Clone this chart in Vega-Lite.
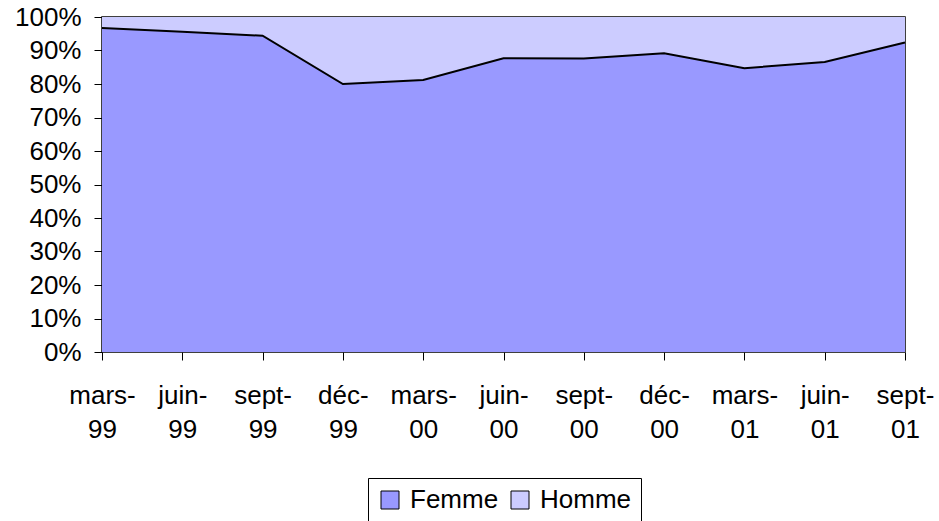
{
  "$schema": "https://vega.github.io/schema/vega-lite/v6.json",
  "width": 803,
  "height": 335,
  "autosize": "none",
  "padding": {"left": 102, "top": 17, "right": 34, "bottom": 169},
  "background": "white",
  "config": {
    "font": "Liberation Sans",
    "view": {"stroke": "black", "strokeWidth": 1.5},
    "axis": {"grid": false, "domain": false, "tickColor": "black", "labelColor": "black", "labelFont": "Liberation Sans"}
  },
  "data": {
    "values": [
      {"mois": "mars-99", "sexe": "Femme", "o": 1, "v": 0.967},
      {"mois": "juin-99", "sexe": "Femme", "o": 1, "v": 0.956},
      {"mois": "sept-99", "sexe": "Femme", "o": 1, "v": 0.944},
      {"mois": "déc-99", "sexe": "Femme", "o": 1, "v": 0.800},
      {"mois": "mars-00", "sexe": "Femme", "o": 1, "v": 0.812},
      {"mois": "juin-00", "sexe": "Femme", "o": 1, "v": 0.877},
      {"mois": "sept-00", "sexe": "Femme", "o": 1, "v": 0.876},
      {"mois": "déc-00", "sexe": "Femme", "o": 1, "v": 0.892},
      {"mois": "mars-01", "sexe": "Femme", "o": 1, "v": 0.847},
      {"mois": "juin-01", "sexe": "Femme", "o": 1, "v": 0.866},
      {"mois": "sept-01", "sexe": "Femme", "o": 1, "v": 0.924},
      {"mois": "mars-99", "sexe": "Homme", "o": 2, "v": 0.033},
      {"mois": "juin-99", "sexe": "Homme", "o": 2, "v": 0.044},
      {"mois": "sept-99", "sexe": "Homme", "o": 2, "v": 0.056},
      {"mois": "déc-99", "sexe": "Homme", "o": 2, "v": 0.200},
      {"mois": "mars-00", "sexe": "Homme", "o": 2, "v": 0.188},
      {"mois": "juin-00", "sexe": "Homme", "o": 2, "v": 0.123},
      {"mois": "sept-00", "sexe": "Homme", "o": 2, "v": 0.124},
      {"mois": "déc-00", "sexe": "Homme", "o": 2, "v": 0.108},
      {"mois": "mars-01", "sexe": "Homme", "o": 2, "v": 0.153},
      {"mois": "juin-01", "sexe": "Homme", "o": 2, "v": 0.134},
      {"mois": "sept-01", "sexe": "Homme", "o": 2, "v": 0.076}
    ]
  },
  "encoding": {
    "x": {
      "field": "mois", "type": "ordinal",
      "sort": ["mars-99", "juin-99", "sept-99", "déc-99", "mars-00", "juin-00", "sept-00", "déc-00", "mars-01", "juin-01", "sept-01"],
      "scale": {"type": "point", "padding": 0},
      "axis": {
        "title": null, "labelAngle": 0, "labelFontSize": 26, "tickSize": 8,
        "labelPadding": 22, "labelLineHeight": 34, "labelBaseline": "top", "labelOverlap": false,
        "labelExpr": "[slice(datum.label, 0, indexof(datum.label, '-') + 1), slice(datum.label, indexof(datum.label, '-') + 1)]"
      }
    }
  },
  "layer": [
    {
      "mark": {"type": "area", "opacity": 1},
      "encoding": {
        "y": {
          "field": "v", "type": "quantitative", "stack": "zero",
          "scale": {"domain": [0, 1]},
          "axis": {"title": null, "format": ".0%", "values": [0,0.1,0.2,0.3,0.4,0.5,0.6,0.7,0.8,0.9,1], "labelOverlap": false, "labelFontSize": 26, "tickSize": 8, "labelPadding": 13}
        },
        "color": {
          "field": "sexe", "type": "nominal",
          "scale": {"domain": ["Femme", "Homme"], "range": ["#9999FF", "#CCCCFF"]},
          "legend": {
            "title": null, "orient": "none", "legendX": 266, "legendY": 461,
            "direction": "horizontal", "symbolType": "square", "symbolSize": 324,
            "symbolStrokeColor": "black", "symbolStrokeWidth": 1, "symbolOpacity": 1,
            "labelFontSize": 26, "labelColor": "black", "strokeColor": "black",
            "padding": 9, "columnPadding": 8, "symbolOffset": 0, "labelOffset": 7
          }
        },
        "order": {"field": "o"}
      }
    },
    {
      "transform": [{"filter": "datum.sexe === 'Femme'"}],
      "mark": {"type": "line", "color": "black", "strokeWidth": 2},
      "encoding": {
        "y": {
          "field": "v", "type": "quantitative",
          "axis": {"title": null, "format": ".0%", "values": [0,0.1,0.2,0.3,0.4,0.5,0.6,0.7,0.8,0.9,1], "labelOverlap": false, "labelFontSize": 26, "tickSize": 8, "labelPadding": 13}
        }
      }
    }
  ]
}
